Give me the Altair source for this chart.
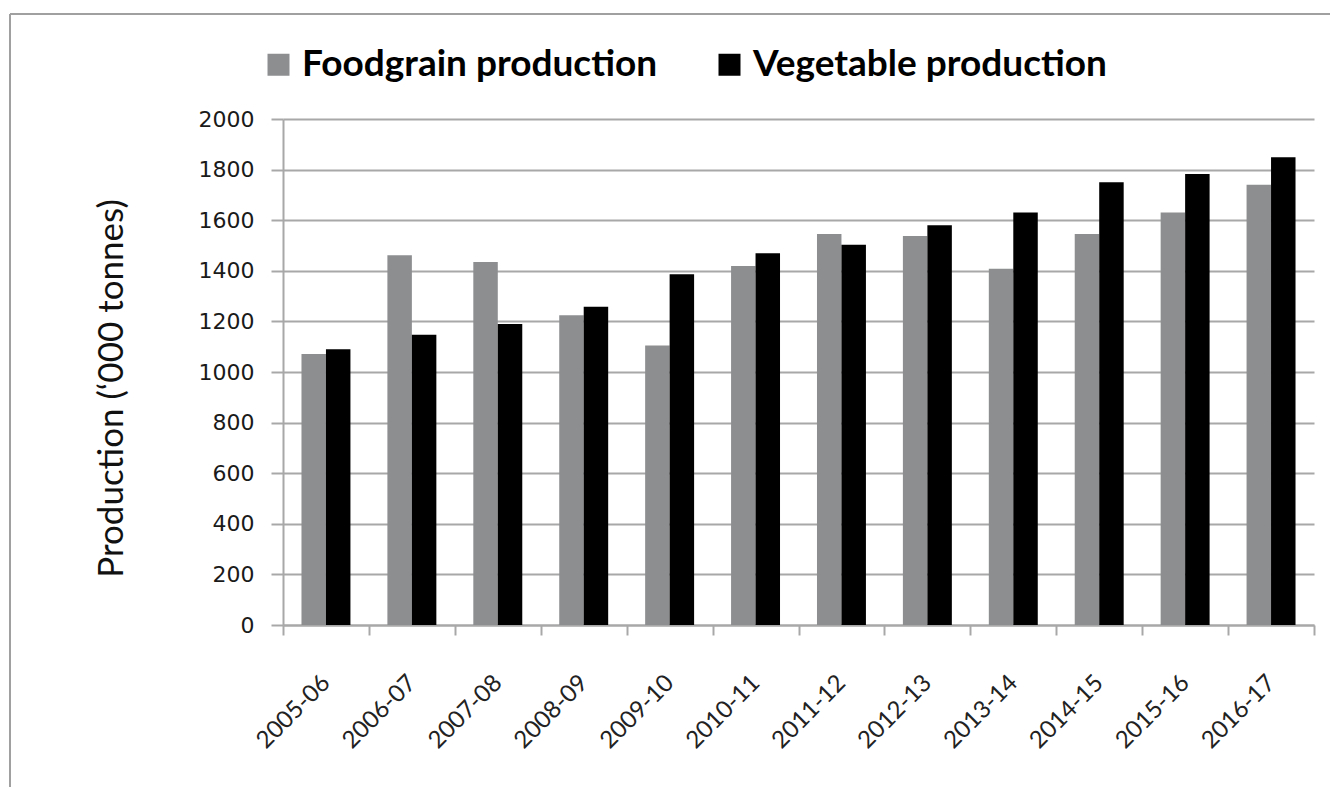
import altair as alt
import pandas as pd

years = ["2005-06", "2006-07", "2007-08", "2008-09", "2009-10", "2010-11",
         "2011-12", "2012-13", "2013-14", "2014-15", "2015-16", "2016-17"]
foodgrain = [1071, 1461, 1435, 1224, 1105, 1419, 1545, 1538, 1408, 1545, 1630, 1740]
vegetable = [1090, 1147, 1190, 1258, 1386, 1469, 1503, 1580, 1630, 1750, 1783, 1849]
series_names = ["Foodgrain production", "Vegetable production"]
series_colors = ["#8d8e90", "#000000"]
y_ticks = [0, 200, 400, 600, 800, 1000, 1200, 1400, 1600, 1800, 2000]

rows = []
for i, yr in enumerate(years):
    rows.append({"year": yr, "series": series_names[0], "value": foodgrain[i]})
    rows.append({"year": yr, "series": series_names[1], "value": vegetable[i]})
df = pd.DataFrame(rows)

GRID = "#a8a8a8"

bars = alt.Chart(df).mark_bar().encode(
    x=alt.X("year:N", sort=years, title=None,
            scale=alt.Scale(paddingInner=0, paddingOuter=0),
            axis=alt.Axis(tickBand="extent", tickSize=10, tickColor=GRID, tickWidth=2,
                          domainColor=GRID, domainWidth=2, grid=False,
                          labelAngle=-45, labelAlign="right", labelBaseline="middle",
                          labelFont="Lato", labelFontSize=24, labelColor="#222222",
                          labelPadding=44)),
    xOffset=alt.XOffset("series:N", sort=series_names,
                        scale=alt.Scale(paddingInner=0, paddingOuter=0.755)),
    y=alt.Y("value:Q", title="Production (‘000 tonnes)",
            scale=alt.Scale(domain=[0, 2000], nice=False),
            axis=alt.Axis(values=y_ticks, format="d", grid=True, gridColor=GRID, gridWidth=2,
                          tickSize=12, tickColor=GRID, tickWidth=2,
                          domainColor=GRID, domainWidth=2,
                          labelFont="DejaVu Sans", labelFontSize=22, labelColor="#1a1a1a",
                          labelPadding=17,
                          titleFont="Lato", titleFontSize=35, titleFontWeight="normal",
                          titleColor="#111111", titleAngle=270,
                          titleX=-172, titleY=269, titleAlign="center",
                          titleBaseline="middle")),
    color=alt.Color("series:N", sort=series_names,
                    scale=alt.Scale(domain=series_names, range=series_colors),
                    legend=alt.Legend(orient="none", legendX=-23, legendY=-73,
                                      direction="horizontal", title=None,
                                      symbolType="square", symbolSize=484,
                                      symbolStrokeWidth=0, labelFont="Lato",
                                      labelFontWeight="bold", labelFontSize=37,
                                      labelColor="#000000", labelOffset=5,
                                      labelLimit=0, columnPadding=53)),
)

one = alt.Data(values=[{}])
border_top = alt.Chart(one).mark_rule(color="#a0a0a0", strokeWidth=2).encode(
    x=alt.value(-273), x2=alt.value(1047), y=alt.value(-105))
border_left = alt.Chart(one).mark_rule(color="#a0a0a0", strokeWidth=2).encode(
    x=alt.value(-273), y=alt.value(-105), y2=alt.value(668))

chart = alt.layer(border_top, border_left, bars).properties(
    width=1031, height=506,
    padding={"left": 9, "top": 13, "right": 0, "bottom": 0},
    background="white",
).configure_view(stroke=None)

chart.save("out.html", embed_options={"renderer": "svg", "actions": False})
